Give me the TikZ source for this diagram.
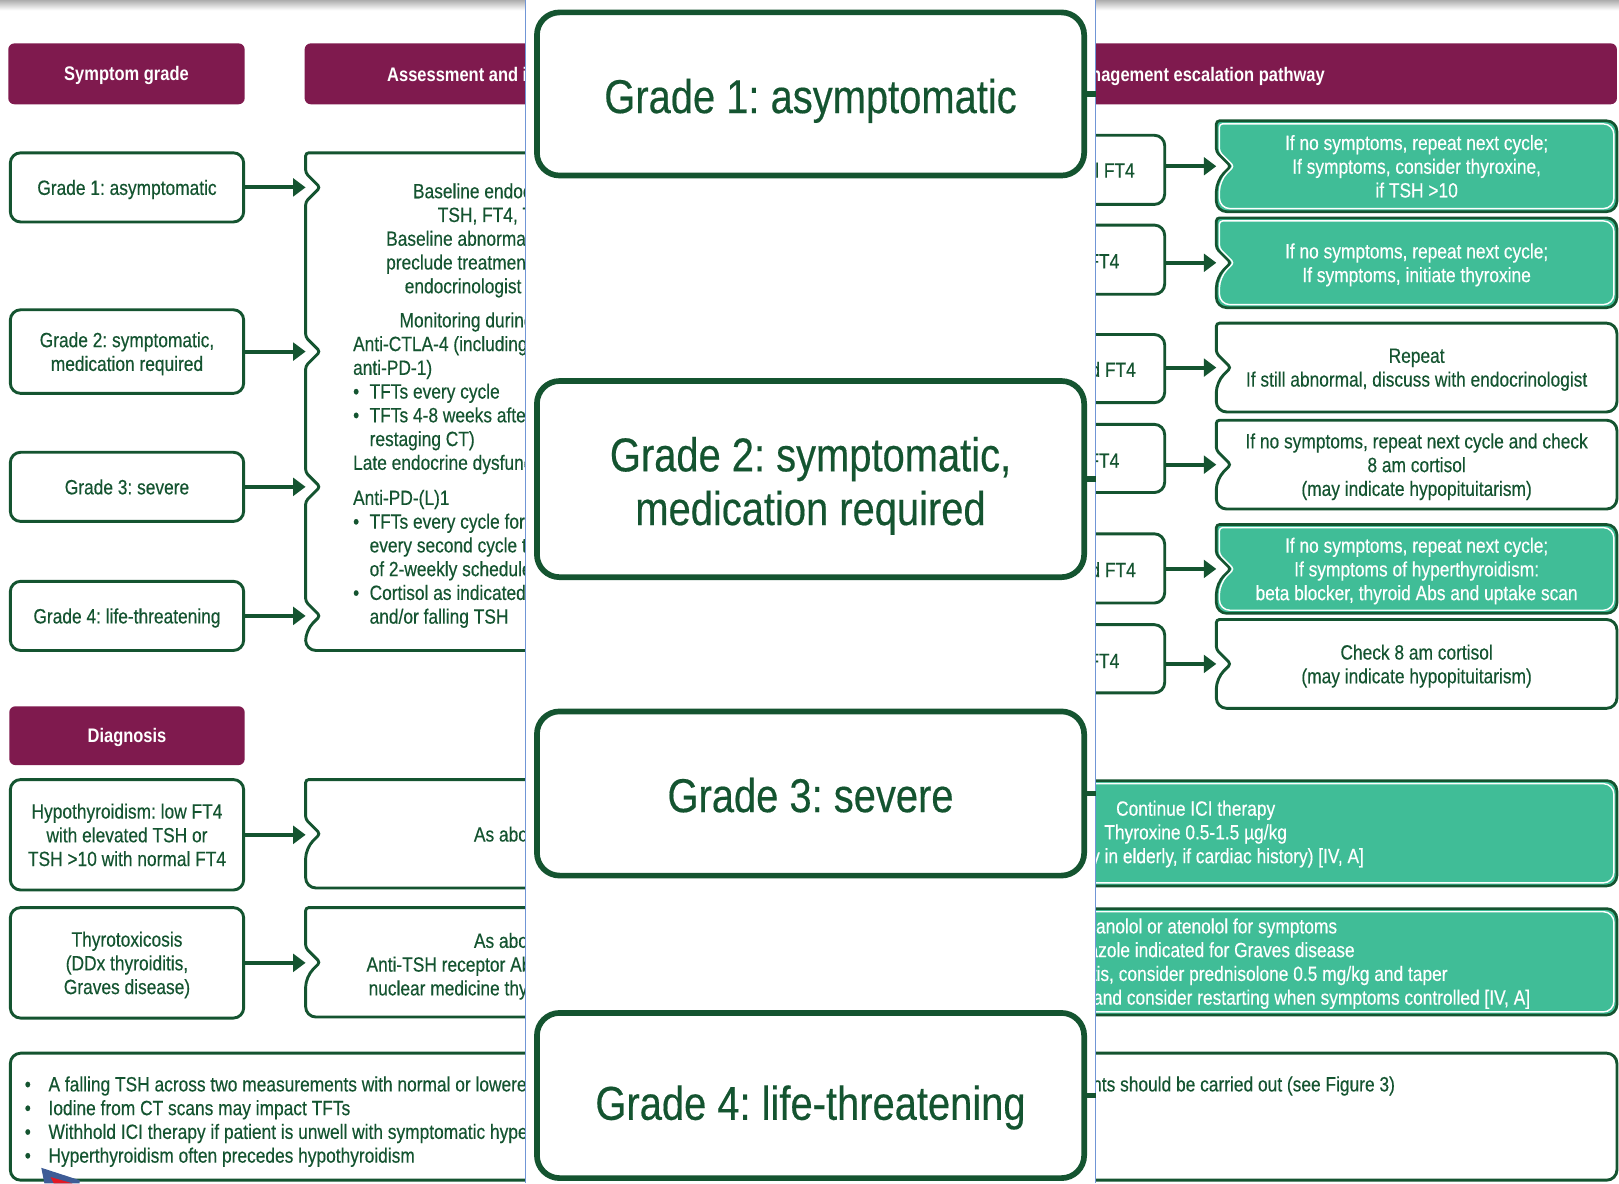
\documentclass[tikz,border=0pt]{standalone}
\usepackage{fontspec}
\setmainfont{Liberation Sans}[FakeStretch=0.84, UprightFeatures={FakeBold=0.35}]
\usetikzlibrary{arrows.meta}

\definecolor{plum}{RGB}{127,26,78}
\definecolor{forest}{RGB}{20,84,48}
\definecolor{mint}{RGB}{64,189,151}
\definecolor{panelblue}{RGB}{112,150,214}
\definecolor{cursorblue}{RGB}{62,92,150}
\definecolor{cursorred}{RGB}{226,24,36}

\newcommand\txtfont{\fontsize{10pt}{11.5pt}\selectfont}
\newcommand\hdrfont{\fontsize{9.5pt}{11pt}\selectfont\bfseries}
\newcommand\bigfont{\fontsize{23pt}{26.5pt}\selectfont}

% box outline with a right-pointing notch in the middle of its left side
% #1 x-left, #2 y-top, #3 x-right, #4 y-bottom, #5 drawing options
\newcommand\qframe[5]{%
  \draw[#5] ({(#1+#3)/2},#2) [rounded corners=5pt] -- (#3,#2) -- (#3,#4) -- (#1,#4)
    -- (#1,{(#2+#4)/2+14}) [rounded corners=1.5pt] -- ({#1+14},{(#2+#4)/2})
    -- (#1,{(#2+#4)/2-14}) -- (#1,#2) [rounded corners=5pt] -- cycle;}

\begin{document}
\frenchspacing
\begin{tikzpicture}[
  x=0.5pt, y=-0.5pt,
  txt/.style={font=\txtfont, text=forest, inner sep=0pt, outer sep=0pt},
  shell/.style={inner sep=0pt, outer sep=0pt},
  wd/.style={minimum width={#1*0.5pt}},
  ht/.style={minimum height={#1*0.5pt}},
  hdr/.style={shell, fill=plum, rounded corners=3pt, text=white, font=\hdrfont, text height=6.8pt, text depth=0pt},
  hdrtxt/.style={shell, text=white, font=\hdrfont, text height=6.8pt, text depth=0pt},
  gbox/.style={shell, draw=forest, line width=1.4pt, rounded corners=5pt, fill=white, font=\txtfont, text=forest, align=center, text depth=0pt},
  bigbox/.style={shell, draw=forest, line width=2.75pt, rounded corners=11pt, fill=white},
  bigtxt/.style={shell, font=\bigfont, text=forest, anchor=base, text height=15pt, text depth=0pt},
  arr/.style={draw=forest, line width=2pt, -{Triangle[length=6pt,width=8.5pt]}},
  frame/.style={draw=forest, line width=1.4pt, fill=white},
  greenframe/.style={draw=forest, line width=1.3pt, fill=mint},
  innerline/.style={draw=white, line width=0.7pt},
  stub/.style={draw=forest, line width=2.75pt},
  lw/.style={txt, anchor=base west},
  le/.style={txt, anchor=base east},
  mid/.style={txt, align=center, text depth=0pt},
]
\useasboundingbox (0,0) rectangle (1568,1146);
\fill[white] (0,0) rectangle (1568,1146);
\shade[top color=black!32, bottom color=white] (0,0) rectangle (1568,10);

% ---------- column headers ----------
\node[hdr, wd=229, ht=59] (hs) at (122.5,71.5) {Symptom grade};
\node[hdr, wd=393, ht=59] (ha) at (491.5,71.5) {};
\node[hdrtxt, anchor=base west] (hat) at (375,78.8) {Assessment and investigation};
\node[hdr, wd=814, ht=59] (hm) at (1159,71.5) {};
\node[hdrtxt, anchor=base east] (hmt) at (1283,78.8) {Management escalation pathway};
\node[hdr, wd=228, ht=57] (hd) at (123,712.5) {Diagnosis};

% ---------- symptom grades ----------
\node[gbox, wd=226, ht=67] (g1) at (123,181.5) {Grade 1: asymptomatic};
\node[gbox, wd=226, ht=81] (g2) at (123,340.5) {Grade 2: symptomatic,\\medication required};
\node[gbox, wd=226, ht=67] (g3) at (123,471.5) {Grade 3: severe};
\node[gbox, wd=226, ht=67] (g4) at (123,596.5) {Grade 4: life-threatening};

% ---------- assessment box with four notches ----------
\node[shell, wd=392, ht=482] (ass) at (492,389) {};
\draw[frame] (492,148) [rounded corners=5pt] -- (688,148) -- (688,630) -- (296,630)
  -- (296,610.5) [rounded corners=1.5pt] -- (310,596.5) -- (296,582.5)
  -- (296,485.5) -- (310,471.5) -- (296,457.5)
  -- (296,354.5) -- (310,340.5) -- (296,326.5)
  -- (296,195.5) -- (310,181.5) -- (296,167.5) -- (296,148) [rounded corners=5pt] -- cycle;

\foreach \g in {g1,g2,g3,g4} \draw[arr] (\g.east) -- (\g.east -| ass.west);

\node[lw] (a1) at (400,192) {Baseline endocrine};
\node[lw] (a2) at (424,215) {TSH, FT4, T3};
\node[lw] (a3) at (374,238) {Baseline abnormalities};
\node[lw] (a4) at (374,261) {preclude treatment};
\node[lw] (a5) at (392,284) {endocrinologist};
\node[lw] (a6) at (387,317) {Monitoring during};
\node[lw] (a7) at (342,340) {Anti-CTLA-4 (including};
\node[lw] (a8) at (342,363) {anti-PD-1)};
\node[lw] (b9) at (342,386) {•};
\node[lw] (a9) at (358,386) {TFTs every cycle};
\node[lw] (b10) at (342,409) {•};
\node[lw] (a10) at (358,409) {TFTs 4-8 weeks after};
\node[lw] (a11) at (358,432) {restaging CT)};
\node[lw] (a12) at (342,455) {Late endocrine dysfunction};
\node[lw] (a13) at (342,489) {Anti-PD-(L)1};
\node[lw] (b14) at (342,512) {•};
\node[lw] (a14) at (358,512) {TFTs every cycle for first};
\node[lw] (a15) at (358,535) {every second cycle thereafter};
\node[lw] (a16) at (358,558) {of 2-weekly schedule};
\node[lw] (b17) at (342,581) {•};
\node[lw] (a17) at (358,581) {Cortisol as indicated};
\node[lw] (a18) at (358,604) {and/or falling TSH};

% ---------- diagnosis rows ----------
\node[gbox, wd=226, ht=107] (d1) at (123,808.5) {Hypothyroidism: low FT4\\with elevated TSH or\\TSH >10 with normal FT4};
\node[gbox, wd=226, ht=107] (d2) at (123,932.5) {Thyrotoxicosis\\(DDx thyroiditis,\\Graves disease)};
\node[shell, wd=392, ht=105] (e1) at (492,807.5) {};
\node[shell, wd=392, ht=106] (e2) at (492,932) {};
\qframe{296}{755}{688}{860}{frame}
\qframe{296}{879}{688}{985}{frame}
\draw[arr] (d1.east) -- (d1.east -| e1.west);
\draw[arr] (d2.east) -- (d2.east -| e2.west);
\node[lw] (e1a) at (459,815) {As above};
\node[lw] (e2a) at (459,918) {As above};
\node[lw] (e2b) at (355,941) {Anti-TSH receptor Abs};
\node[lw] (e2c) at (357,964) {nuclear medicine thyroid};

% ---------- thyroid function results ----------
\node[gbox, wd=188, ht=67] (r1) at (1034,164.5) {};
\node[gbox, wd=188, ht=67] (r2) at (1034,251.5) {};
\node[gbox, wd=188, ht=66] (r3) at (1034,357) {};
\node[gbox, wd=188, ht=66] (r4) at (1034,444) {};
\node[gbox, wd=188, ht=67] (r5) at (1034,550.5) {};
\node[gbox, wd=188, ht=66] (r6) at (1034,638) {};
\node[le] (r1t) at (1099,172) {normal FT4};
\node[le] (r2t) at (1084,260) {low FT4};
\node[le] (r3t) at (1100,365) {raised FT4};
\node[le] (r4t) at (1084,453) {low FT4};
\node[le] (r5t) at (1100,559) {raised FT4};
\node[le] (r6t) at (1084,647) {low FT4};

% ---------- management boxes ----------
\qframe{1178}{117}{1566}{205}{greenframe}
\qframe{1181}{120}{1563}{202}{innerline}
\qframe{1178}{211}{1566}{298}{greenframe}
\qframe{1181}{214}{1563}{295}{innerline}
\qframe{1178}{313}{1566}{399}{frame}
\qframe{1178}{407}{1566}{493}{frame}
\qframe{1178}{508}{1566}{594}{greenframe}
\qframe{1181}{511}{1563}{591}{innerline}
\qframe{1178}{600}{1566}{686}{frame}

\node[mid, shell, wd=388, ht=88, text=white] (q1) at (1372,161)
  {If no symptoms, repeat next cycle;\\If symptoms, consider thyroxine,\\if TSH >10};
\node[mid, shell, wd=388, ht=87, text=white] (q2) at (1372,254.5)
  {If no symptoms, repeat next cycle;\\If symptoms, initiate thyroxine};
\node[mid, shell, wd=388, ht=86] (q3) at (1372,356)
  {Repeat\\If still abnormal, discuss with endocrinologist};
\node[mid, shell, wd=388, ht=86] (q4) at (1372,450)
  {If no symptoms, repeat next cycle and check\\8 am cortisol\\(may indicate hypopituitarism)};
\node[mid, shell, wd=388, ht=86, text=white] (q5) at (1372,551)
  {If no symptoms, repeat next cycle;\\If symptoms of hyperthyroidism:\\beta blocker, thyroid Abs and uptake scan};
\node[mid, shell, wd=388, ht=86] (q6) at (1372,643)
  {Check 8 am cortisol\\(may indicate hypopituitarism)};

\draw[arr] (q1.west -| r1.east) -- (q1.west);
\draw[arr] (q2.west -| r2.east) -- (q2.west);
\draw[arr] (q3.west -| r3.east) -- (q3.west);
\draw[arr] (q4.west -| r4.east) -- (q4.west);
\draw[arr] (q5.west -| r5.east) -- (q5.west);
\draw[arr] (q6.west -| r6.east) -- (q6.west);

% treatment boxes for the diagnoses
\qframe{752}{756}{1566}{858}{greenframe}
\qframe{755}{759}{1563}{855}{innerline}
\qframe{752}{880}{1566}{983}{greenframe}
\qframe{755}{883}{1563}{980}{innerline}
\node[shell, wd=814, ht=102] (q7) at (1159,807) {};
\node[shell, wd=814, ht=103] (q8) at (1159,931.5) {};
\node[txt, text=white, anchor=base] (q7a) at (1158,790) {Continue ICI therapy};
\node[txt, text=white, anchor=base] (q7b) at (1158,813) {Thyroxine 0.5-1.5 µg/kg};
\node[le, text=white] (q7c) at (1321,836) {(especially in elderly, if cardiac history) [IV, A]};
\node[le, text=white] (q8a) at (1295,904) {Propranolol or atenolol for symptoms};
\node[le, text=white] (q8b) at (1312,927) {Carbimazole indicated for Graves disease};
\node[le, text=white] (q8c) at (1402,950) {If thyroiditis, consider prednisolone 0.5 mg/kg and taper};
\node[le, text=white] (q8d) at (1482,973) {Withhold ICI therapy and consider restarting when symptoms controlled [IV, A]};

% ---------- notes ----------
\node[gbox, wd=1556, ht=123] (notes) at (788,1081.5) {};
\node[lw] (n1b) at (24,1057) {•};
\node[lw] (n1) at (47,1057) {A falling TSH across two measurements with normal or lowered};
\node[le] (n1r) at (1351,1057) {ments should be carried out (see Figure 3)};
\node[lw] (n2b) at (24,1080) {•};
\node[lw] (n2) at (47,1080) {Iodine from CT scans may impact TFTs};
\node[lw] (n3b) at (24,1103) {•};
\node[lw] (n3) at (47,1103) {Withhold ICI therapy if patient is unwell with symptomatic hyperthyroidism};
\node[lw] (n4b) at (24,1126) {•};
\node[lw] (n4) at (47,1126) {Hyperthyroidism often precedes hypothyroidism};

% ---------- enlarged grade panel ----------
\fill[white] (509,0) rectangle (1061,1146);
\draw[panelblue, line width=0.75pt] (509,0) -- (509,1146);
\draw[panelblue, line width=0.75pt] (1061,0) -- (1061,1146);

\node[bigbox, wd=530, ht=158] (o1) at (785,91) {};
\node[bigbox, wd=530, ht=190] (o2) at (785,464) {};
\node[bigbox, wd=530, ht=159] (o3) at (785,768.5) {};
\node[bigbox, wd=530, ht=160] (o4) at (785,1061) {};
\node[bigtxt] (o1t) at (785,109.5) {Grade 1: asymptomatic};
\node[bigtxt] (o2t) at (785,456.5) {Grade 2: symptomatic,};
\node[bigtxt] (o2u) at (785,508.5) {medication required};
\node[bigtxt] (o3t) at (785,786.5) {Grade 3: severe};
\node[bigtxt] (o4t) at (785,1084.5) {Grade 4: life-threatening};
\coordinate (s1) at (1061,91);
\coordinate (s2) at (1061,464);
\coordinate (s3) at (1061,768.5);
\coordinate (s4) at (1061,1061);
\draw[stub] (o1.east) -- (s1);
\draw[stub] (o2.east) -- (s2);
\draw[stub] (o3.east) -- (s3);
\draw[stub] (o4.east) -- (s4);

% ---------- pointer at the lower left ----------
\fill[cursorblue] (40,1131) -- (77,1143) -- (77,1146) -- (43,1146) -- cycle;
\fill[cursorred] (49,1140) -- (70,1146) -- (52,1146) -- cycle;
\end{tikzpicture}
\end{document}
